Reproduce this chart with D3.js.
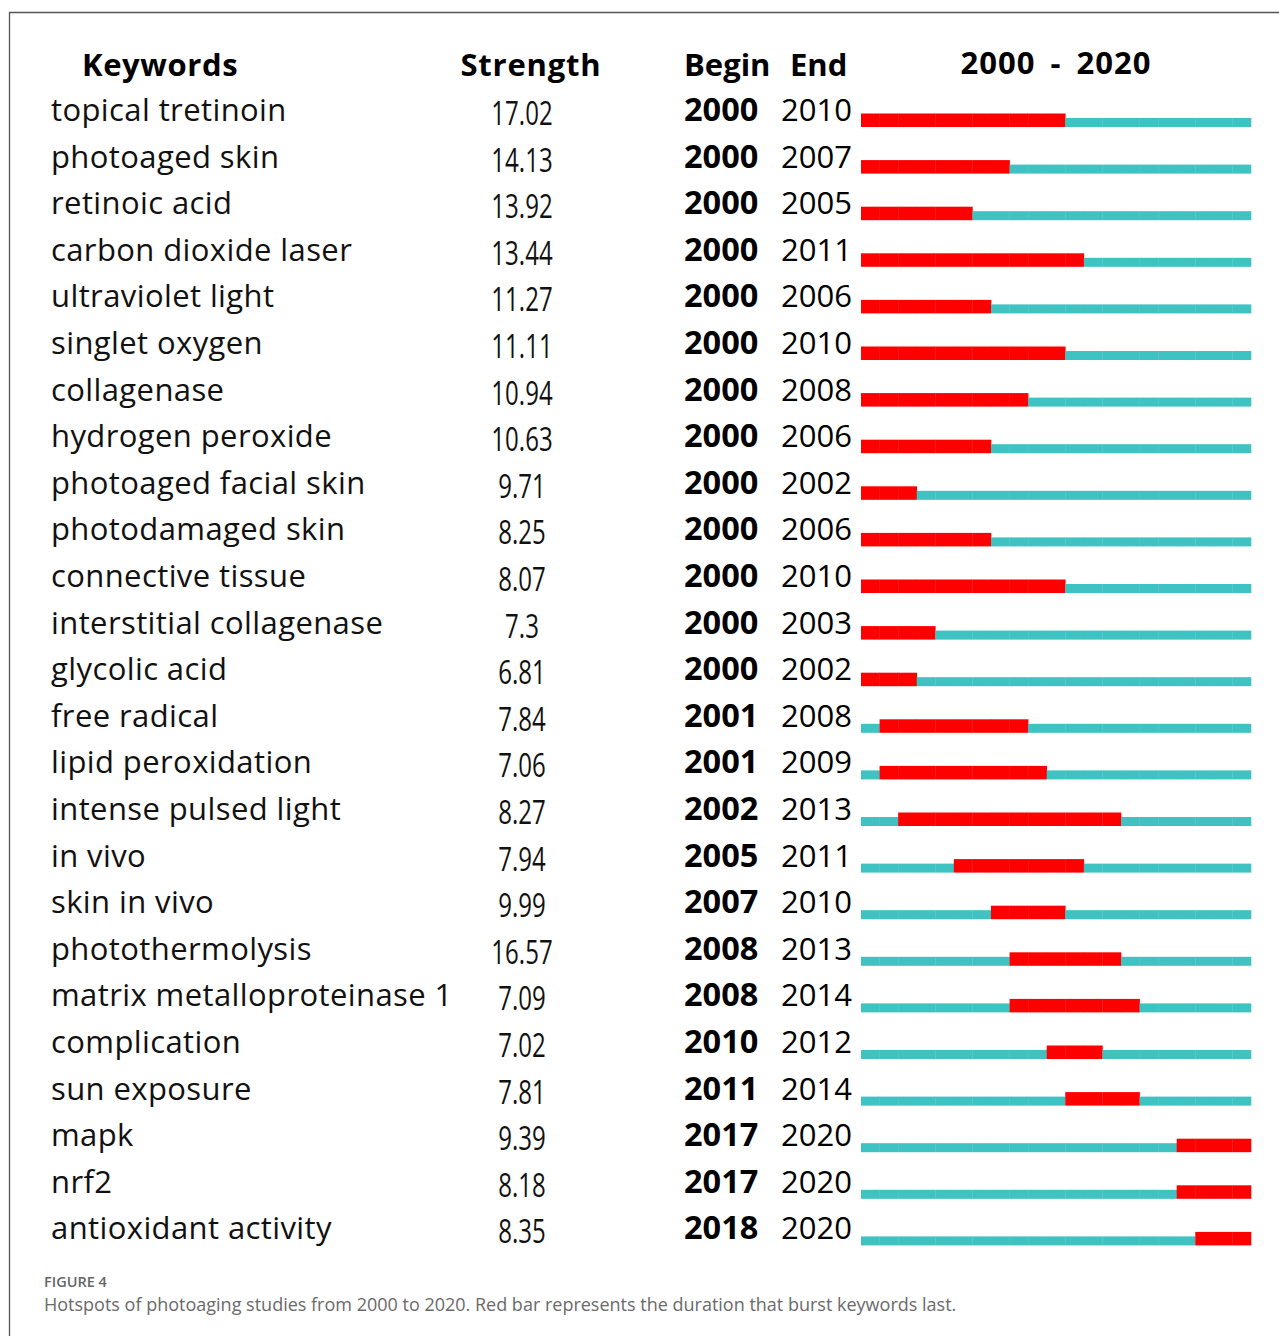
<!DOCTYPE html>
<html><head><meta charset="utf-8">
<script src="https://cdn.jsdelivr.net/npm/d3@7"></script>
<style>body{margin:0;background:#fff}svg{display:block}</style>
</head><body>
<svg id="c" width="1279" height="1336"></svg>
<script>
const keywords = ["topical tretinoin","photoaged skin","retinoic acid","carbon dioxide laser","ultraviolet light","singlet oxygen","collagenase","hydrogen peroxide","photoaged facial skin","photodamaged skin","connective tissue","interstitial collagenase","glycolic acid","free radical","lipid peroxidation","intense pulsed light","in vivo","skin in vivo","photothermolysis","matrix metalloproteinase 1","complication","sun exposure","mapk","nrf2","antioxidant activity"];
const strengths = ["17.02","14.13","13.92","13.44","11.27","11.11","10.94","10.63","9.71","8.25","8.07","7.3","6.81","7.84","7.06","8.27","7.94","9.99","16.57","7.09","7.02","7.81","9.39","8.18","8.35"];
const begins = [2000,2000,2000,2000,2000,2000,2000,2000,2000,2000,2000,2000,2000,2001,2001,2002,2005,2007,2008,2008,2010,2011,2017,2017,2018];
const ends = [2010,2007,2005,2011,2006,2010,2008,2006,2002,2006,2010,2003,2002,2008,2009,2013,2011,2010,2013,2014,2012,2014,2020,2020,2020];
const yearStart = 2000, yearEnd = 2020;
const headers = ["Keywords","Strength","Begin","End","2000 - 2020"];
const figLabel = "FIGURE 4";
const caption = "Hotspots of photoaging studies from 2000 to 2020. Red bar represents the duration that burst keywords last.";

const svg = d3.select("#c");
const F = "'Open Sans', 'Noto Sans', sans-serif";
const RED = "#ff0000", TEAL = "#3fc2c2";

// frame
svg.append("path").attr("d","M9.5,1336 V12.5 H1290").attr("fill","none").attr("stroke","#555").attr("stroke-width",1.3);

const n = keywords.length;
const rowY = d3.scaleLinear().domain([0, n-1]).range([127, 1245.4]); // bar bottom
const years = d3.range(yearStart, yearEnd+1);
const x = d3.scaleLinear().domain([yearStart, yearEnd+1]).range([861, 1251]);

// headers
const hy = 76;
const hdr = svg.append("g").attr("font-family",F).attr("font-weight",700).attr("font-size",31).attr("fill","#000");
hdr.append("text").attr("x",82).attr("y",hy).attr("letter-spacing",0.6).text(headers[0]);
hdr.append("text").attr("x",531).attr("y",hy).attr("text-anchor","middle").attr("letter-spacing",0.8).text(headers[1]);
hdr.append("text").attr("x",684).attr("y",hy).text(headers[2]);
hdr.append("text").attr("x",790).attr("y",hy).text(headers[3]);
hdr.append("text").attr("x",(x.range()[0]+x.range()[1])/2).attr("y",hy-2).attr("text-anchor","middle")
  .attr("letter-spacing",1).attr("word-spacing",6).text(headers[4]);

const rows = svg.append("g").selectAll("g").data(keywords.map((k,i)=>({k,s:strengths[i],b:begins[i],e:ends[i],i})))
  .join("g").attr("transform",d=>`translate(0,${rowY(d.i)})`);

rows.append("text").attr("x",51).attr("y",-6).attr("font-family",F).attr("font-size",31).attr("letter-spacing",0.4).attr("fill","#111").text(d=>d.k);
rows.append("text").attr("transform","translate(522,-2) scale(0.74,1)").attr("text-anchor","middle")
  .attr("font-family",F).attr("font-size",32.5).attr("fill","#111").text(d=>d.s);
rows.append("text").attr("x",684).attr("y",-6).attr("font-family",F).attr("font-weight",700).attr("font-size",32.5).attr("fill","#000").text(d=>d.b);
rows.append("text").attr("x",781).attr("y",-6).attr("font-family",F).attr("font-size",31).attr("fill","#000").text(d=>d.e);

// bars per year cell
rows.each(function(d){
  const g = d3.select(this);
  years.forEach(yr=>{
    const on = yr>=d.b && yr<=d.e;
    const h = on ? 13.5 : 9;
    g.append("rect").attr("x",x(yr)).attr("y",-h).attr("width",x(yr+1)-x(yr)+0.3).attr("height",h)
      .attr("fill", on?RED:TEAL);
  });
});

// caption
svg.append("text").attr("x",44).attr("y",1287).attr("font-family",F).attr("font-weight",600).attr("font-size",14.5).attr("fill","#666").text(figLabel);
svg.append("text").attr("x",44).attr("y",1311).attr("font-family",F).attr("font-size",18).attr("fill","#6a6a6a").text(caption);
</script>
</body></html>
